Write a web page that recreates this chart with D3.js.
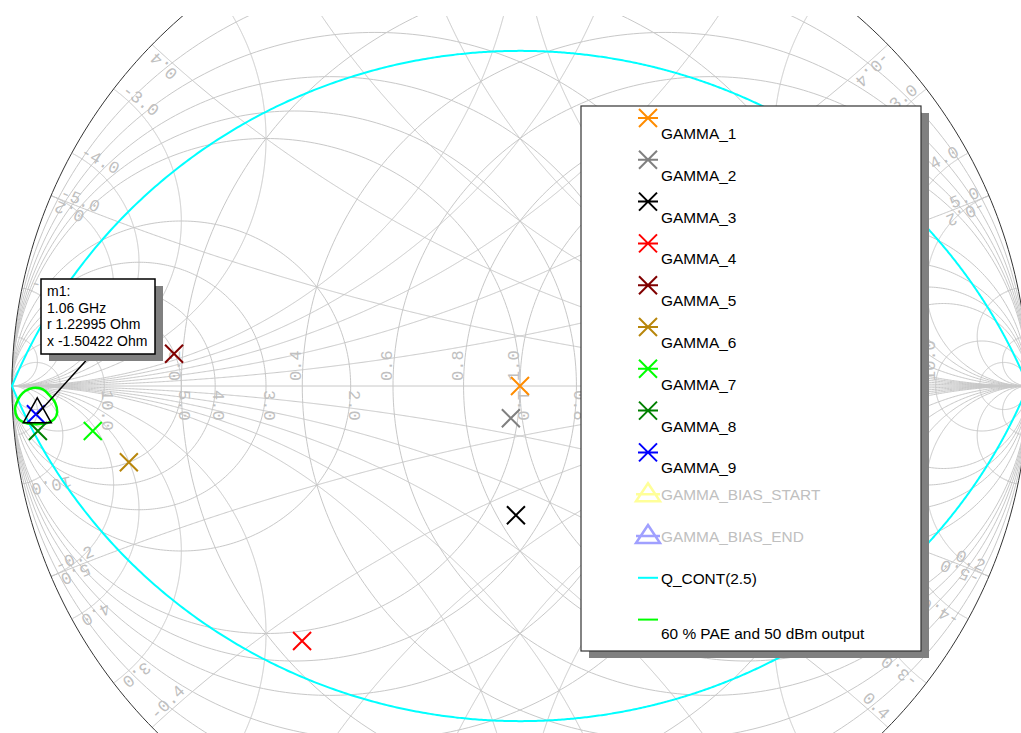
<!DOCTYPE html>
<html>
<head>
<meta charset="utf-8">
<script src="https://cdn.jsdelivr.net/npm/d3@7"></script>
<style>
  body { margin: 0; background: #fff; }
  svg { display: block; }
</style>
</head>
<body>
<div id="chart"></div>
<script>
// ---- data ----
const gammaNames  = ["GAMMA_1", "GAMMA_2", "GAMMA_3", "GAMMA_4", "GAMMA_5", "GAMMA_6", "GAMMA_7", "GAMMA_8", "GAMMA_9"];
const gammaColors = ["#ff8c00", "#808080", "#000000", "#ff0000", "#800000", "#b8860b", "#00ff00", "#008000", "#0000ff"];
// reflection coefficient, real / imaginary part
const gammaRe = [0.000, -0.018, -0.008, -0.429, -0.681, -0.770, -0.841, -0.949, -0.953];
const gammaIm = [0.000, -0.065, -0.261, -0.515,  0.065, -0.154, -0.091, -0.091, -0.057];

// 60 % PAE / 50 dBm contour (gamma re / im)
const contourRe = [-0.984, -0.974, -0.959, -0.941, -0.927, -0.915, -0.911, -0.917, -0.931, -0.959, -0.978, -0.990, -0.994, -0.990];
const contourIm = [-0.020, -0.010, -0.004, -0.006, -0.018, -0.034, -0.053, -0.067, -0.075, -0.077, -0.073, -0.063, -0.046, -0.032];

const qValue = 2.5;
const z0 = 50;
const markerName = "m1";
const markerFreq = "1.06 GHz";
const markerR = 1.22995;
const markerX = -1.50422;

const gridVals  = [0.2, 0.4, 0.6, 0.8, 1, 2, 3, 4, 5, 10, 20];
const labelVals = [0.2, 0.4, 0.6, 0.8, 1, 2, 3, 4, 5, 10];

const legendLabels = gammaNames.concat(["GAMMA_BIAS_START", "GAMMA_BIAS_END", "Q_CONT(2.5)", "60 % PAE and 50 dBm output"]);

// ---- setup ----
const W = 1021, H = 733;
const svg = d3.select("#chart").append("svg").attr("width", W).attr("height", H);

const x = d3.scaleLinear().domain([-1, 1]).range([12, 1028]);
const y = d3.scaleLinear().domain([-1, 1]).range([881, -109]);
const Rx = x(1) - x(0), Ry = y(0) - y(1);

svg.append("defs").append("clipPath").attr("id", "plotclip")
  .append("rect").attr("x", 0).attr("y", 16).attr("width", W).attr("height", H - 16);

const plot = svg.append("g").attr("clip-path", "url(#plotclip)");

const line = d3.line().x(p => x(p[0])).y(p => y(p[1]));

// (z-1)/(z+1)
function zToGamma(r, xx) {
  const ar = r - 1, br = r + 1;
  const d = br * br + xx * xx;
  return [(ar * br + xx * xx) / d, (xx * br - ar * xx) / d];
}
const rSamples = d3.range(0, 900).map(i => Math.tan(i / 900 * Math.PI / 2));

function arcZ(xx) {
  const pts = rSamples.map(r => zToGamma(r, xx));
  pts.push([1, 0]);
  return pts;
}
function circleR(r) {
  return d3.range(0, 361).map(a => {
    const t = a * Math.PI / 180;
    return [r / (1 + r) + Math.cos(t) / (1 + r), Math.sin(t) / (1 + r)];
  });
}
const neg = pts => pts.map(p => [-p[0], -p[1]]);

// ---- grid ----
const grid = plot.append("g").attr("fill", "none").attr("stroke", "#c8c8c8").attr("stroke-width", 1);
gridVals.forEach(v => {
  grid.append("path").attr("d", line(circleR(v)));
  grid.append("path").attr("d", line(neg(circleR(v))));
  [v, -v].forEach(s => {
    grid.append("path").attr("d", line(arcZ(s)));
    grid.append("path").attr("d", line(neg(arcZ(s))));
  });
});
plot.append("line")
  .attr("x1", x(-1)).attr("x2", x(1)).attr("y1", y(0)).attr("y2", y(0))
  .attr("stroke", "#c8c8c8");

// ---- grid labels ----
const lab = plot.append("g")
  .attr("font-family", "'Liberation Mono', 'DejaVu Sans Mono', monospace")
  .attr("font-size", 17).attr("fill", "#c0c0c0");

labelVals.forEach(v => {
  // resistance labels above the axis
  const gr = (v - 1) / (v + 1);
  lab.append("text").attr("text-anchor", "start")
    .attr("transform", `translate(${x(gr) - 1},${y(0) - 5}) rotate(-90)`)
    .text(v.toFixed(1));
  // conductance labels below the axis
  const gg = (1 - v) / (1 + v);
  lab.append("text").attr("text-anchor", "start")
    .attr("transform", `translate(${x(gg) - 2},${y(0) + 4}) rotate(90)`)
    .text(v.toFixed(1));
});

function edgeLabel(g, text, side) {
  const ex = x(g[0]), ey = y(g[1]);
  // skip labels whose edge point is outside the visible part of the chart
  if (ey < 30 || ey > H || ex > W - 8) return;
  const th = Math.atan2(g[1], g[0]);
  let tx = -Rx * Math.sin(th), ty = -Ry * Math.cos(th);
  const tl = Math.hypot(tx, ty); tx /= tl; ty /= tl;
  const sx = side * tx, sy = side * ty;
  let ix = x(0) - ex, iy = y(0) - ey;
  const il = Math.hypot(ix, iy); ix /= il; iy /= il;
  const dx = -sy, dy = sx;
  const anchor = (dx * ix + dy * iy) > 0 ? "start" : "end";
  const px = ex + ix * 8 + sx * 2, py = ey + iy * 8 + sy * 2;
  const ang = Math.atan2(dy, dx) * 180 / Math.PI;
  lab.append("text").attr("text-anchor", anchor)
    .attr("transform", `translate(${px},${py}) rotate(${ang})`)
    .text(text);
}
labelVals.forEach(v => {
  [1, -1].forEach(sg => {
    const xx = sg * v;
    edgeLabel(zToGamma(0, xx), xx.toFixed(1), xx > 0 ? 1 : -1);
    const g = zToGamma(0, xx);
    edgeLabel([-g[0], -g[1]], xx.toFixed(1), xx < 0 ? -1 : 1);
  });
});

// outer circle
plot.append("path")
  .attr("d", line(d3.range(0, 361).map(a => [Math.cos(a * Math.PI / 180), Math.sin(a * Math.PI / 180)])))
  .attr("fill", "none").attr("stroke", "#333").attr("stroke-width", 1);

// ---- Q contour ----
const qUpper = rSamples.map(r => zToGamma(r, qValue * r));
const qLower = rSamples.map(r => zToGamma(r, -qValue * r)).reverse();
plot.append("path")
  .attr("d", line(qUpper.concat([[1, 0]], qLower)) + "Z")
  .attr("fill", "none").attr("stroke", "#00ffff").attr("stroke-width", 2);

// ---- PAE contour ----
const contour = contourRe.map((v, i) => [v, contourIm[i]]);
plot.append("path")
  .attr("d", d3.line().x(p => x(p[0])).y(p => y(p[1])).curve(d3.curveCardinalClosed)(contour))
  .attr("fill", "none").attr("stroke", "#00ff00").attr("stroke-width", 2.5);

// ---- gamma markers ----
const xs = 9;
gammaRe.forEach((gr, i) => {
  const px = x(gr), py = y(gammaIm[i]);
  plot.append("path")
    .attr("d", `M${px - xs},${py - xs}L${px + xs},${py + xs}M${px - xs},${py + xs}L${px + xs},${py - xs}`)
    .attr("stroke", gammaColors[i]).attr("stroke-width", 2).attr("fill", "none");
});

// ---- marker m1 ----
const zm = [markerR / z0, markerX / z0];
const gm = zToGamma(zm[0], zm[1]);
const mx = x(gm[0]), my = y(gm[1]);
plot.append("line")
  .attr("x1", 92).attr("y1", 354).attr("x2", mx).attr("y2", my)
  .attr("stroke", "#000").attr("stroke-width", 1.5);
plot.append("path")
  .attr("d", `M${mx},${my - 16.5}L${mx + 14},${my + 8.5}L${mx - 14},${my + 8.5}Z`)
  .attr("fill", "none").attr("stroke", "#000").attr("stroke-width", 1.5);

const mb = svg.append("g");
mb.append("rect").attr("x", 49).attr("y", 286).attr("width", 114).attr("height", 75).attr("fill", "#808080");
mb.append("rect").attr("x", 41).attr("y", 279).attr("width", 114).attr("height", 75)
  .attr("fill", "#fff").attr("stroke", "#000").attr("stroke-width", 1.5);
const mLines = [markerName + ":", markerFreq, "r " + markerR + " Ohm", "x " + markerX + " Ohm"];
mb.selectAll("text.m").data(mLines).join("text")
  .attr("x", 47).attr("y", (d, i) => 296 + i * 16.7)
  .attr("font-family", "'Liberation Sans', Arial, sans-serif").attr("font-size", 14)
  .attr("fill", "#000").text(d => d);

// ---- legend ----
const lg = svg.append("g");
lg.append("rect").attr("x", 589).attr("y", 113).attr("width", 340).attr("height", 545).attr("fill", "#808080");
lg.append("rect").attr("x", 581).attr("y", 106).attr("width", 340).attr("height", 545)
  .attr("fill", "#fff").attr("stroke", "#333").attr("stroke-width", 1.2);

const slotY = i => 118 + 41.8 * i;
const lx = 648;
legendLabels.forEach((name, i) => {
  const sy = slotY(i);
  let ty = sy + 21, col = "#000";
  if (i < gammaNames.length) {
    const c = gammaColors[i];
    lg.append("path")
      .attr("d", `M${lx - 10},${sy}L${lx + 10},${sy}M${lx - 9},${sy - 9}L${lx + 9},${sy + 9}M${lx - 9},${sy + 9}L${lx + 9},${sy - 9}`)
      .attr("stroke", c).attr("stroke-width", 2).attr("fill", "none");
  } else if (i < gammaNames.length + 2) {
    const c = i === gammaNames.length ? "#ffff99" : "#a0a0ff";
    lg.append("path")
      .attr("d", `M${lx},${sy - 11}L${lx + 12},${sy + 7}L${lx - 12},${sy + 7}ZM${lx - 12},${sy}L${lx + 12},${sy}`)
      .attr("stroke", c).attr("stroke-width", 2.5).attr("fill", "none");
    ty = sy + 6; col = "#c0c0c0";
  } else {
    const c = name.startsWith("Q_") ? "#00ffff" : "#00ff00";
    lg.append("line").attr("x1", lx - 10).attr("x2", lx + 10).attr("y1", sy).attr("y2", sy)
      .attr("stroke", c).attr("stroke-width", 2);
    ty = name.startsWith("Q_") ? sy + 6 : sy + 19;
  }
  lg.append("text").attr("x", 661).attr("y", ty)
    .attr("font-family", "'Liberation Sans', Arial, sans-serif").attr("font-size", 15.4)
    .attr("fill", col).text(name);
});
</script>
</body>
</html>
